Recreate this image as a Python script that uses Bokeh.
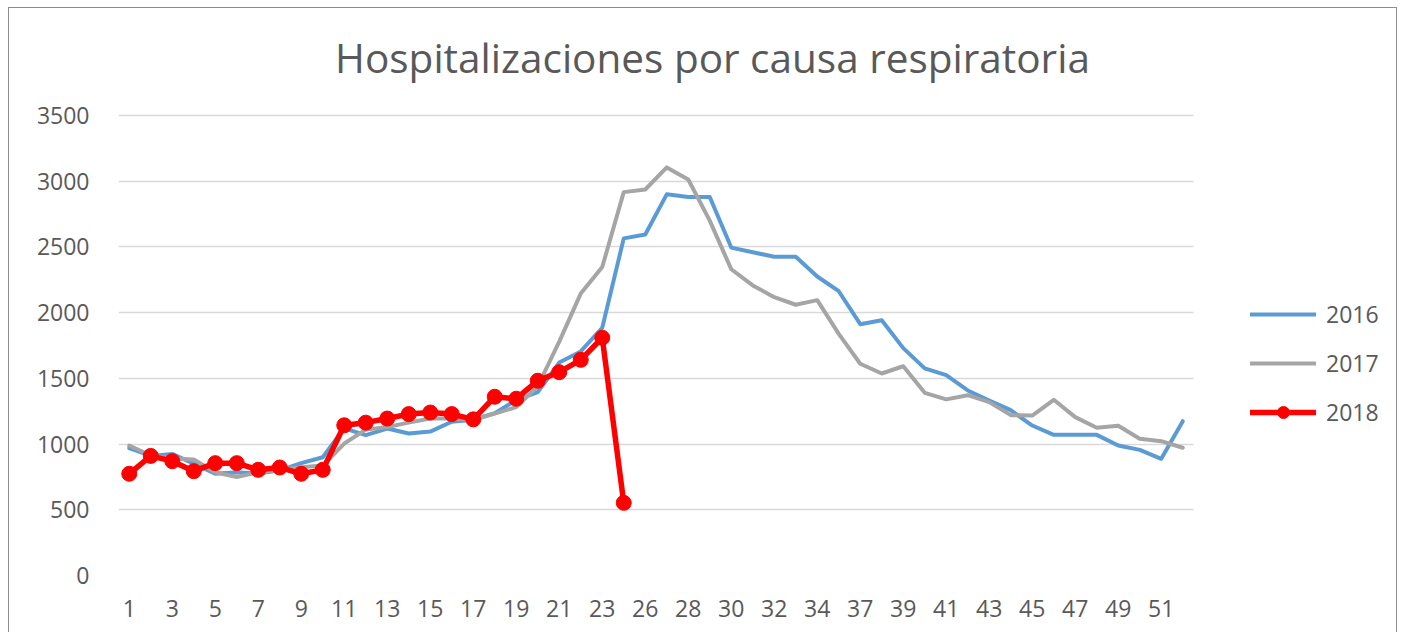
from bokeh.plotting import figure
from bokeh.models import FixedTicker, Legend, LegendItem, Label, Range1d
from bokeh.embed import file_html
from bokeh.resources import INLINE

# ---- data ----
weeks = [str(w) for w in list(range(1, 25)) + list(range(26, 36)) + list(range(37, 53))]
y2016 = [970, 910, 925, 850, 775, 785, 775, 800, 855, 900,
         1120, 1068, 1118, 1080, 1095, 1170, 1185, 1235, 1335, 1395,
         1620, 1705, 1885, 2565, 2595, 2900, 2880, 2880, 2495, 2460,
         2425, 2425, 2275, 2163, 1912, 1942, 1730, 1576, 1525, 1408,
         1331, 1258, 1141, 1070, 1070, 1070, 989, 956, 888, 1174]
y2017 = [989, 913, 890, 883, 786, 750, 786, 804, 824, 837,
         1004, 1110, 1130, 1163, 1194, 1194, 1185, 1232, 1281, 1440,
         1780, 2145, 2347, 2917, 2937, 3105, 3013, 2700, 2330, 2207,
         2118, 2060, 2095, 1839, 1611, 1537, 1592, 1390, 1340, 1372,
         1319, 1220, 1217, 1337, 1205, 1124, 1139, 1040, 1022, 972]
y2018 = [774, 910, 870, 794, 855, 855, 804, 822, 774, 804,
         1143, 1163, 1194, 1228, 1240, 1228, 1188, 1360, 1345, 1482,
         1547, 1641, 1809, 553]
series_names = ["2016", "2017", "2018"]
y_ticks = [0, 500, 1000, 1500, 2000, 2500, 3000, 3500]
title_text = "Hospitalizaciones por causa respiratoria"

idx = list(range(len(weeks)))
idx18 = idx[:len(y2018)]

FONT = "Open Sans"
TXT = "#595959"

# layout: the plotting frame covers the whole canvas to the right and top so
# that the legend and title (drawn inside the frame) are not clipped; the
# value area itself is 1075 x 460 px (0..3500), starting 109 px from the left.
W, H = 1389, 625
LEFT, BOTTOM = 109, 58
frame_w = W - LEFT
frame_h = H - BOTTOM
cat_w, val_h = 1075, 460
n = len(weeks)
y_max = y_ticks[-1]
x_end = -0.5 + n * frame_w / cat_w
y_end = y_max * frame_h / val_h

p = figure(width=W, height=H, output_backend="svg", toolbar_location=None,
           x_range=Range1d(-0.5, x_end), y_range=Range1d(0, y_end),
           min_border_left=LEFT, min_border_right=0, min_border_top=0,
           min_border_bottom=BOTTOM, background_fill_color="white",
           border_fill_color="white")
p.styles = {"border-top": "1px solid #8c8c8c", "border-left": "1px solid #8c8c8c",
            "border-right": "1px solid #8c8c8c", "margin-left": "8px",
            "margin-top": "7px"}
p.outline_line_color = None

p.xgrid.visible = False
p.ygrid.grid_line_color = "#d9d9d9"
p.ygrid.grid_line_width = 1.5
p.ygrid.cross_bounds = (-0.5, n - 0.5)
p.yaxis.ticker = FixedTicker(ticks=y_ticks)
p.xaxis.ticker = FixedTicker(ticks=idx[::2])
p.xaxis.major_label_overrides = {i: weeks[i] for i in idx}

for ax in (p.xaxis[0], p.yaxis[0]):
    ax.axis_line_color = None
    ax.major_tick_line_color = None
    ax.minor_tick_line_color = None
    ax.major_tick_out = 0
    ax.major_tick_in = 0
    ax.minor_tick_out = 0
    ax.major_label_text_font = FONT
    ax.major_label_text_font_size = "23px"
    ax.major_label_text_color = TXT
p.yaxis.major_label_standoff = 29
p.xaxis.major_label_standoff = 24

r16 = p.line(idx, y2016, line_color="#5B9BD5", line_width=4, line_cap="round", line_join="round")
r17 = p.line(idx, y2017, line_color="#A5A5A5", line_width=4, line_cap="round", line_join="round")
r18 = p.line(idx18, y2018, line_color="#FF0000", line_width=5.5, line_cap="round", line_join="round")
r18m = p.scatter(idx18, y2018, size=15, marker="circle", fill_color="#FF0000", line_color="#FF0000")

legend = Legend(items=[LegendItem(label=series_names[0], renderers=[r16]),
                       LegendItem(label=series_names[1], renderers=[r17]),
                       LegendItem(label=series_names[2], renderers=[r18, r18m])],
                location=(1132, 147), orientation="vertical",
                glyph_width=66, glyph_height=30, label_height=30, spacing=17,
                label_standoff=10, padding=0, margin=0,
                border_line_alpha=0, background_fill_alpha=0,
                label_text_font=FONT, label_text_font_size="23px",
                label_text_color=TXT)
p.add_layout(legend, "center")

# title: centred at x=594 px and 518 px above the value-axis baseline
title = Label(x=594, y=518, x_units="screen", y_units="screen", text=title_text,
              text_align="center", text_baseline="middle", text_font=FONT,
              text_font_size="40.5px", text_color=TXT)
p.add_layout(title)

open("out.html", "w").write(file_html(p, INLINE))
